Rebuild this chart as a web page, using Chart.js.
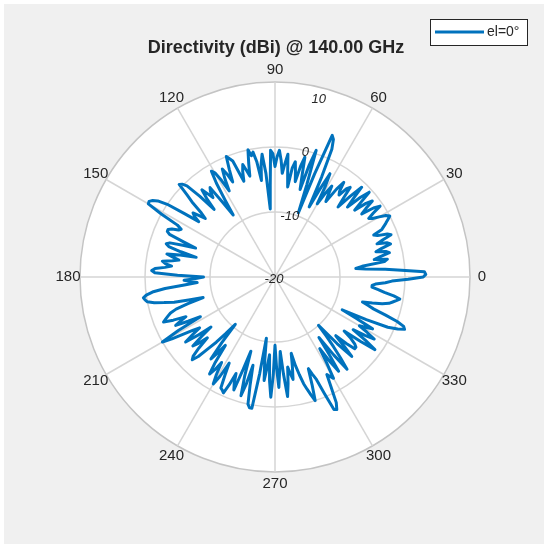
<!DOCTYPE html>
<html><head><meta charset="utf-8">
<script src="https://cdn.jsdelivr.net/npm/chart.js@4"></script>
<style>html,body{margin:0;padding:0;background:#fff}#wrap{width:549px;height:550px}</style>
</head><body><div id="wrap"><canvas id="c" width="549" height="550"></canvas></div>
<script>
const titleText = 'Directivity (dBi) @ 140.00 GHz';
const seriesName = 'el=0°';

// azimuth angles (degrees, counter-clockwise from the right)
const angles = [0,1,2,3,4,5,6,7,8,9,10,11,12,13,14,15,16,17,18,19,20,21,22,23,24,25,26,27,28,29,
30,31,32,33,34,35,36,37,38,39,40,41,42,43,44,45,46,47,48,49,50,51,52,53,54,55,56,57,58,59,
60,61,62,63,64,65,66,67,68,69,70,71,72,73,74,75,76,77,78,79,80,81,82,83,84,85,86,87,88,89,
90,91,92,93,94,95,96,97,98,99,100,101,102,103,104,105,106,107,108,109,110,111,112,113,114,115,116,117,118,119,
120,121,122,123,124,125,126,127,128,129,130,131,132,133,134,135,136,137,138,139,140,141,142,143,144,145,146,147,148,149,
150,151,152,153,154,155,156,157,158,159,160,161,162,163,164,165,166,167,168,169,170,171,172,173,174,175,176,177,178,179,
180,181,182,183,184,185,186,187,188,189,190,191,192,193,194,195,196,197,198,199,200,201,202,203,204,205,206,207,208,209,
210,211,212,213,214,215,216,217,218,219,220,221,222,223,224,225,226,227,228,229,230,231,232,233,234,235,236,237,238,239,
240,241,242,243,244,245,246,247,248,249,250,251,252,253,254,255,256,257,258,259,260,261,262,263,264,265,266,267,268,269,
270,271,272,273,274,275,276,277,278,279,280,281,282,283,284,285,286,287,288,289,290,291,292,293,294,295,296,297,298,299,
300,301,302,303,304,305,306,307,308,309,310,311,312,313,314,315,316,317,318,319,320,321,322,323,324,325,326,327,328,329,
330,331,332,333,334,335,336,337,338,339,340,341,342,343,344,345,346,347,348,349,350,351,352,353,354,355,356,357,358,359];

// directivity (dBi) at each angle
const directivity = [
2.8,3.2,3.0,-0.5,-3,-6,-7.5,-6.5,-3,-2.5,-4.5,-3.5,-2,-2.5,-4,-3,-1.5,-2,-3.5,-2.5,-1,-1.5,-3,-3.5,-2,-1.5,-1,-0.5,0,-0.5,
-1.5,-2.5,-3,-2,-0.5,-1.5,-3.5,-2.5,-1,-2,-4,-2.5,-0.5,-2,-4.5,-3,-0.8,-3,-5.5,-4,-2,-2.5,-4,-3.5,-2,-3.5,-6,-5,-3.5,-5,
-7,-4,-2,-5,-8,-3,1.5,3,3.5,-3,-9.5,-5,0.5,-2,-6,-4,-1,-2.5,-5,-3.5,-2,-3,-6,-4,-1,-2.5,-4,-2,-0.5,-1.5,
-3,-1,-0.5,-6,-9.5,-4,-1,-2.5,-5,-2,-0.5,-1,0,-2,-4,-3,-2,-3,-4.5,-3,-1,-0.5,0,-2,-4,-2.5,-1.5,-3,-5,-3,
-1.5,-1,-3,-6,-8.5,-6,-3,-3.5,-4.5,-3.5,-2.5,-4,-6,-3,-0.5,0.2,0.5,-1.5,-3,-5,-6,-5,-4,-4.5,-5.5,-3,0,1.5,2.2,2.6,
2.5,0,-3,-3.8,-3.5,-2.5,-2,-2,-2.5,-5,-7,-5,-3,-2.5,-3,-5,-7.5,-5,-3,-4,-5,-4,-2.5,-3,-4,-3,-1.5,-1,-1.5,-5,
-9,-8,-6,-7,-8,-6,-3,-1,0,0.5,0.3,0,-1,-2.5,-4,-6.5,-8.5,-6,-4,-3,-2.5,-2,-1.5,-3,-5,-4,-3,-5,-7,-3,
0,-1.5,-3.5,-5,-6,-4.5,-3,-5,-7.5,-5.5,-3.5,-4.5,-6,-4,-2.5,-2,-3,-5,-6.5,-8.5,-10.5,-7,-4,-5.5,-7,-4,-2,-3,-4.5,-2.5,
-1,-2.5,-5,-3,-1,-0.8,-0.5,-2,-4,-2.5,-1.5,-5,-8,-4,-1,-3,-6,-3,0,0.5,0.5,-5,-10.5,-7,-4,-6,-8,-4,-1.5,-5,
-9.5,-6,-3,-6,-8.5,-5,-1.5,-3.5,-6,-5,-4,-6,-8,-6,-4.5,-3,-2,-1,0,-2.5,-5,-4,-3,-0.5,2.3,2.5,1.5,-1,-3,-2.5,
-2,-4.5,-7,-4.5,-2.5,-5.5,-8.5,-5,-2,-4,-6,-8,-10,-6,-3,-5,-7,-5,-3.5,-3.5,-4,-5,-6.5,-3.5,-1,-3,-5.5,-3.5,-2,-3.5,
-5,-4,-3,-6,-8.5,-4.5,-1,0.5,1.5,1.2,0,-2,-4,-5,-6,-4.5,-3,-2,-1.5,-1,-0.5,-1.5,-3,-4,-5,-5,-4.5,-3,-2,0.5];

const angleTicks = [0,30,60,90,120,150,180,210,240,270,300,330];
const rTicks = [-20,-10,0,10];

// radar index i sits i*step clockwise from the top => direction angle 90 - i*step
const N = angles.length;
const order = angles.map((_, i) => ((90 - i * 360 / N) % 360 + 360) % 360);
const lookup = new Map(angles.map((a, k) => [a, directivity[k]]));
const values = order.map(a => lookup.get(a));

const textColor = '#262626';
const gridColor = '#d5d5d5';
const font = '"Liberation Sans", Arial, Helvetica, sans-serif';

const polarDecor = {
  id: 'polarDecor',
  beforeDraw(chart) {
    const {ctx} = chart; const s = chart.scales.r;
    ctx.save();
    ctx.fillStyle = '#ffffff'; ctx.fillRect(0, 0, chart.width, chart.height);
    ctx.fillStyle = '#f0f0f0'; ctx.fillRect(4, 4, 540, 540);
    ctx.beginPath(); ctx.arc(s.xCenter, s.yCenter, s.drawingArea, 0, Math.PI * 2);
    ctx.fillStyle = '#ffffff'; ctx.fill();
    ctx.restore();
  },
  afterDraw(chart) {
    const {ctx} = chart; const s = chart.scales.r;
    ctx.save();
    ctx.fillStyle = textColor;
    ctx.textAlign = 'center'; ctx.textBaseline = 'middle';
    ctx.font = '15px ' + font;
    angleTicks.forEach(a => {
      const idx = order.indexOf(a);
      const p = s.getPointPosition(idx, s.drawingArea + 12);
      ctx.fillText(String(a), p.x, p.y);
    });
    ctx.font = 'italic 13px ' + font;
    const t = 76 * Math.PI / 180;
    rTicks.forEach(v => {
      const d = Math.min(s.getDistanceFromCenterForValue(v), s.drawingArea - 10);
      ctx.fillText(String(v), s.xCenter + d * Math.cos(t) - 1, s.yCenter - d * Math.sin(t) + 2);
    });
    // title
    ctx.font = 'bold 18px ' + font;
    ctx.fillText(titleText, 276, 48);
    // legend
    ctx.fillStyle = '#ffffff'; ctx.fillRect(430.5, 19.5, 97, 26);
    ctx.strokeStyle = '#262626'; ctx.lineWidth = 1; ctx.strokeRect(430.5, 19.5, 97, 26);
    ctx.strokeStyle = '#0072BD'; ctx.lineWidth = 3;
    ctx.beginPath(); ctx.moveTo(435, 32); ctx.lineTo(484, 32); ctx.stroke();
    ctx.fillStyle = textColor; ctx.font = '14px ' + font; ctx.textAlign = 'left';
    ctx.fillText(chart.data.datasets[0].label, 487, 32);
    ctx.restore();
  }
};

new Chart(document.getElementById('c'), {
  type: 'radar',
  data: {
    labels: order,
    datasets: [{
      label: seriesName,
      data: values,
      borderColor: '#0072BD',
      borderWidth: 3,
      borderJoinStyle: 'round',
      fill: false,
      pointRadius: 0,
      pointHoverRadius: 0,
      tension: 0
    }]
  },
  options: {
    responsive: false,
    animation: false,
    layout: {padding: {left: 80, right: 79, top: 82, bottom: 78}},
    plugins: {legend: {display: false}, title: {display: false}, tooltip: {enabled: false}},
    scales: {
      r: {
        min: -20, max: 10, startAngle: 0,
        ticks: {display: false, stepSize: 10},
        pointLabels: {display: false},
        grid: {circular: true, lineWidth: 1.5,
          color: c => (c.tick && c.tick.value === 10) ? '#c4c4c4' : gridColor},
        angleLines: {display: true, color: gridColor,
          lineWidth: c => (order[c.index] % 30 === 0) ? 1.5 : 0}
      }
    }
  },
  plugins: [polarDecor]
});
</script></body></html>
